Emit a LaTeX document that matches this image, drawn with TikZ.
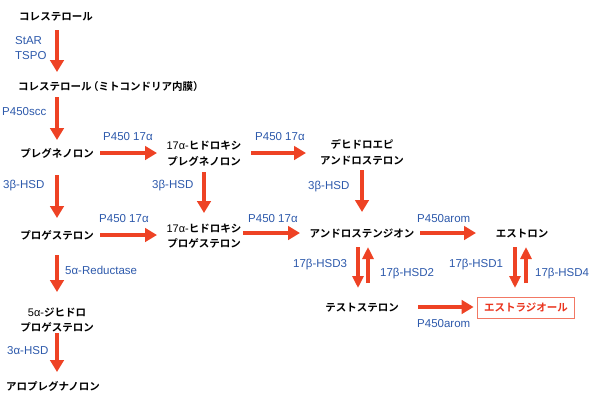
\documentclass[tikz,border=0pt]{standalone}
\usepackage{fontspec}
\setmainfont{Liberation Sans}
\newfontfamily\jpfont{Noto Sans CJK JP Bold}
\usetikzlibrary{arrows.meta,calc}
\definecolor{arrred}{RGB}{238,66,36}
\definecolor{labblue}{RGB}{46,90,172}
\definecolor{boxred}{RGB}{242,120,100}
\definecolor{txtred}{RGB}{234,52,30}
\newcommand\lat[1]{{\rmfamily\fontsize{11}{15.5}\selectfont #1}}
\tikzset{
 jp/.style={font=\jpfont\fontsize{10.5}{15.5}\selectfont, inner sep=0pt, align=center},
 lab/.style={font=\fontsize{11.5}{13}\selectfont, text=labblue, inner sep=0pt, anchor=west, text height=8.2pt, text depth=0pt},
 arr/.style={draw=arrred, line width=4.3pt, -{Triangle[length=12pt,width=13.5pt]}},
 arrb/.style={draw=arrred, line width=4pt, -{Triangle[length=12pt,width=11pt]}},
 e2box/.style={jp, draw=boxred, text=txtred, line width=1pt, inner xsep=7pt, inner ysep=6pt},
}
\begin{document}
\begin{tikzpicture}[x=1pt,y=-1pt]
\fill[white] (0,0) rectangle (602,394);
\useasboundingbox (0,0) rectangle (602,394);
% main nodes
\node[jp] (c1) at (56,17) {コレステロール};
\node[jp, anchor=west] (c2) at (18,87) {コレステロール\kern-3.5pt（ミトコンドリア内膜）};
\node[jp] (preg) at (57,153) {プレグネノロン};
\node[jp] (ohpreg) at (204,153.5) {\lat{17α-}ヒドロキシ\\プレグネノロン};
\node[jp] (dhea) at (362,152.5) {デヒドロエピ\\アンドロステロン};
\node[jp] (prog) at (57,235) {プロゲステロン};
\node[jp] (ohprog) at (204,236) {\lat{17α-}ヒドロキシ\\プロゲステロン};
\node[jp] (andro) at (362,234) {アンドロステンジオン};
\node[jp] (estrone) at (522,234) {エストロン};
\node[jp] (dhp) at (57,320) {\lat{5α-}ジヒドロ\\プロゲステロン};
\node[jp] (allo) at (53,386) {アロプレグナノロン};
\node[jp] (testo) at (362,308) {テストステロン};
\node[e2box] (e2) at (526,308) {エストラジオール};
% arrows
\draw[arr] ($(c1)+(1,13)$) -- ($(c1|-c2)+(1,-15)$);
\draw[arr] ($(preg|-c2)+(0,10)$) -- ($(preg)+(0,-13)$);
\draw[arr] ($(preg)+(0,22)$) -- ($(prog)+(0,-17)$);
\draw[arr] ($(prog)+(0,20)$) -- ($(dhp)+(0,-28)$);
\draw[arr] ($(dhp)+(0,13)$) -- ($(dhp|-allo)+(0,-14)$);
\draw[arr] ($(preg)+(43,0)$) -- ($(ohpreg|-preg)+(-47,0)$);
\draw[arr] ($(ohpreg|-preg)+(47,0)$) -- ($(dhea|-preg)+(-56,0)$);
\draw[arr] ($(ohpreg)+(0,18.5)$) -- ($(ohprog)+(0,-23)$);
\draw[arr] ($(dhea)+(0,17.5)$) -- ($(andro)+(0,-22)$);
\draw[arr] ($(prog)+(43,0)$) -- ($(ohprog|-prog)+(-47,0)$);
\draw[arr] ($(ohprog|-andro)+(39,-1)$) -- ($(andro)+(-62,-1)$);
\draw[arr] ($(andro)+(58,-1)$) -- ($(estrone)+(-46,-1)$);
\draw[arrb] ($(andro)+(-4,13)$) -- ($(testo)+(-4,-20)$);
\draw[arrb] ($(testo)+(6,-25)$) -- ($(andro)+(6,13)$);
\draw[arrb] ($(estrone)+(-7,13)$) -- ($(estrone|-e2)+(-7,-20)$);
\draw[arrb] ($(estrone|-e2)+(4,-25)$) -- ($(estrone)+(4,13)$);
\draw[arr] ($(testo)+(56,-1)$) -- ($(e2.west)+(-3,-1)$);
% enzyme labels
\node[lab] (l1a) at (15,40) {StAR};
\node[lab] (l1b) at (15,55) {TSPO};
\node[lab] (l2) at (2,111) {P450scc};
\node[lab] (l3) at (3,184) {3β-HSD};
\node[lab] (l4) at (65,270) {5α-Reductase};
\node[lab] (l5) at (7,350) {3α-HSD};
\node[lab] (l6) at (103,136) {P450 17α};
\node[lab] (l7) at (255,136) {P450 17α};
\node[lab] (l8) at (152,184) {3β-HSD};
\node[lab] (l9) at (308,185) {3β-HSD};
\node[lab] (l10) at (99,218) {P450 17α};
\node[lab] (l11) at (248,218) {P450 17α};
\node[lab] (l12) at (417,218) {P450arom};
\node[lab] (l13) at (293,263) {17β-HSD3};
\node[lab] (l14) at (380,272) {17β-HSD2};
\node[lab] (l15) at (449,263) {17β-HSD1};
\node[lab] (l16) at (535,272) {17β-HSD4};
\node[lab] (l17) at (417,323) {P450arom};
\end{tikzpicture}
\end{document}
